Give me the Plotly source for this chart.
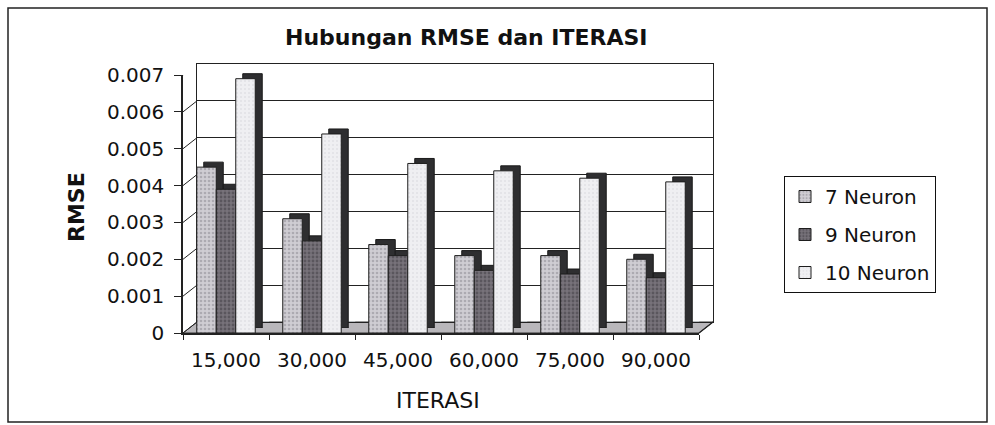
import plotly.graph_objects as go

categories = ["15,000", "30,000", "45,000", "60,000", "75,000", "90,000"]
neuron7 = [0.0045, 0.0031, 0.0024, 0.0021, 0.0021, 0.0020]
neuron9 = [0.0039, 0.0025, 0.0021, 0.0017, 0.0016, 0.0015]
neuron10 = [0.0069, 0.0054, 0.0046, 0.0044, 0.0042, 0.0041]
series_names = ["7 Neuron", "9 Neuron", "10 Neuron"]
y_tickvals = [0, 0.001, 0.002, 0.003, 0.004, 0.005, 0.006, 0.007]
y_ticktext = ["0", "0.001", "0.002", "0.003", "0.004", "0.005", "0.006", "0.007"]

W, H = 995, 425
L, R, T, B = 183, 282, 64, 92
PW = W - L - R
PH = H - T - B
DX, DY = 14, 11      # depth offset of back wall
SX, SY = 7, 5        # shadow offset

def px(x):
    return (x - L) / PW

def py(y):
    return (H - B - y) / PH

FONT = "DejaVu Sans"
YR = [0, 0.007]

fig = go.Figure()

# back wall (gridlines)
fig.add_trace(go.Bar(x=categories, y=[0] * 6, xaxis="x", yaxis="y",
                     showlegend=False, hoverinfo="skip", marker_color="rgba(0,0,0,0)"))

fills = [
    dict(color="#cfcdd3", pattern=dict(shape=".", fgcolor="#8a8790", size=4, solidity=0.35)),
    dict(color="#77727a", pattern=dict(shape=".", fgcolor="#3e3a40", size=4, solidity=0.4)),
    dict(color="#efeff2", pattern=dict(shape=".", fgcolor="#d2d2d8", size=4, solidity=0.2)),
]
# depth / shadow of the bars
for vals in [neuron7, neuron9, neuron10]:
    fig.add_trace(go.Bar(x=categories, y=vals, xaxis="x2", yaxis="y2", showlegend=False,
                         hoverinfo="skip", marker=dict(color="#2e2e30", line=dict(color="#1a1a1a", width=1))))

for name, vals, f in zip(series_names, [neuron7, neuron9, neuron10], fills):
    fig.add_trace(go.Bar(x=categories, y=vals, name=name, xaxis="x3", yaxis="y3",
                         legendgroup=name,
                         marker=dict(color=f["color"], pattern=f["pattern"],
                                     line=dict(color="#1e1e1e", width=1))))

common_x = dict(type="category", showticklabels=False, showgrid=False, zeroline=False, fixedrange=True)
common_y = dict(range=YR, zeroline=False, fixedrange=True, showticklabels=False)

fig.update_layout(
    width=W, height=H,
    margin=dict(l=L, r=R, t=T, b=B),
    paper_bgcolor="white", plot_bgcolor="rgba(0,0,0,0)",
    barmode="group", bargap=0.32, bargroupgap=0,
    font=dict(family=FONT, color="#111"),
    xaxis=dict(**common_x, domain=[DX / PW, 1], anchor="y", showline=True, mirror=True,
               linecolor="#222", linewidth=1),
    yaxis=dict(**common_y, domain=[DY / PH, 1], anchor="x", showgrid=True, gridcolor="#222",
               gridwidth=1, tickvals=y_tickvals, showline=True, mirror=True,
               linecolor="#222", linewidth=1),
    xaxis2=dict(**common_x, domain=[SX / PW, 1 - (DX - SX) / PW], anchor="y2", showline=False),
    yaxis2=dict(**common_y, domain=[SY / PH, 1 - (DY - SY) / PH], anchor="x2", showgrid=False),
    xaxis3=dict(type="category", domain=[0, 1 - DX / PW], anchor="y3", showgrid=False,
                zeroline=False, fixedrange=True, showline=True, linecolor="#222", linewidth=1.5,
                ticks="outside", tickson="boundaries", ticklen=5, tickcolor="#222",
                ticklabelstandoff=8,
                tickfont=dict(size=20, family=FONT, color="#111")),
    yaxis3=dict(range=YR, domain=[0, 1 - DY / PH], anchor="x3", showgrid=False, zeroline=False,
                fixedrange=True, tickvals=y_tickvals, ticktext=y_ticktext, ticks="outside",
                ticklen=7, tickcolor="#222", showline=True, linecolor="#222", linewidth=1.5,
                ticklabelstandoff=6,
                tickfont=dict(size=20, family=FONT, color="#111")),
    legend=dict(x=px(784), y=py(176), xanchor="left", yanchor="top",
                bordercolor="#111", borderwidth=1, bgcolor="white",
                font=dict(size=20, family=FONT, color="#111"),
                traceorder="grouped", tracegroupgap=9, itemwidth=30),
    showlegend=True,
)

shapes = []
# outer border
shapes.append(dict(type="rect", xref="paper", yref="paper", x0=px(8), x1=px(987), y0=py(422), y1=py(8),
                   line=dict(color="#222", width=1.5), fillcolor="rgba(0,0,0,0)", layer="above"))
# floor
shapes.append(dict(type="path", xref="paper", yref="paper",
                   path=f"M {px(L)} {py(H-B)} L {px(L+PW-DX)} {py(H-B)} L {px(L+PW)} {py(H-B-DY)} L {px(L+DX)} {py(H-B-DY)} Z",
                   fillcolor="#b9b7bb", line=dict(color="#333", width=1), layer="below"))
# left wall diagonals at each tick
for v in y_tickvals:
    shapes.append(dict(type="line", xref="paper", yref="y3", ysizemode="pixel", yanchor=v,
                       x0=0, x1=DX / PW, y0=0, y1=DY, line=dict(color="#222", width=1)))
# right floor corner
shapes.append(dict(type="line", xref="paper", yref="paper", x0=1 - DX / PW, x1=1, y0=0, y1=DY / PH,
                   line=dict(color="#222", width=1.2)))
fig.update_layout(shapes=shapes)

fig.add_annotation(text="<b>Hubungan RMSE dan ITERASI</b>", xref="paper", yref="paper",
                   x=px(466), y=py(38), xanchor="center", yanchor="middle", showarrow=False,
                   font=dict(size=22, family=FONT, color="#111"))
fig.add_annotation(text="ITERASI", xref="paper", yref="paper",
                   x=px(438), y=py(400), xanchor="center", yanchor="middle", showarrow=False,
                   font=dict(size=22, family=FONT, color="#111"))
fig.add_annotation(text="<b>RMSE</b>", xref="paper", yref="paper", textangle=-90,
                   x=px(76), y=py(207), xanchor="center", yanchor="middle", showarrow=False,
                   font=dict(size=22, family=FONT, color="#111"))

fig.write_html("out.html", config={"displayModeBar": False},
               post_script="document.body.style.margin='0';document.body.style.overflow='hidden';")
